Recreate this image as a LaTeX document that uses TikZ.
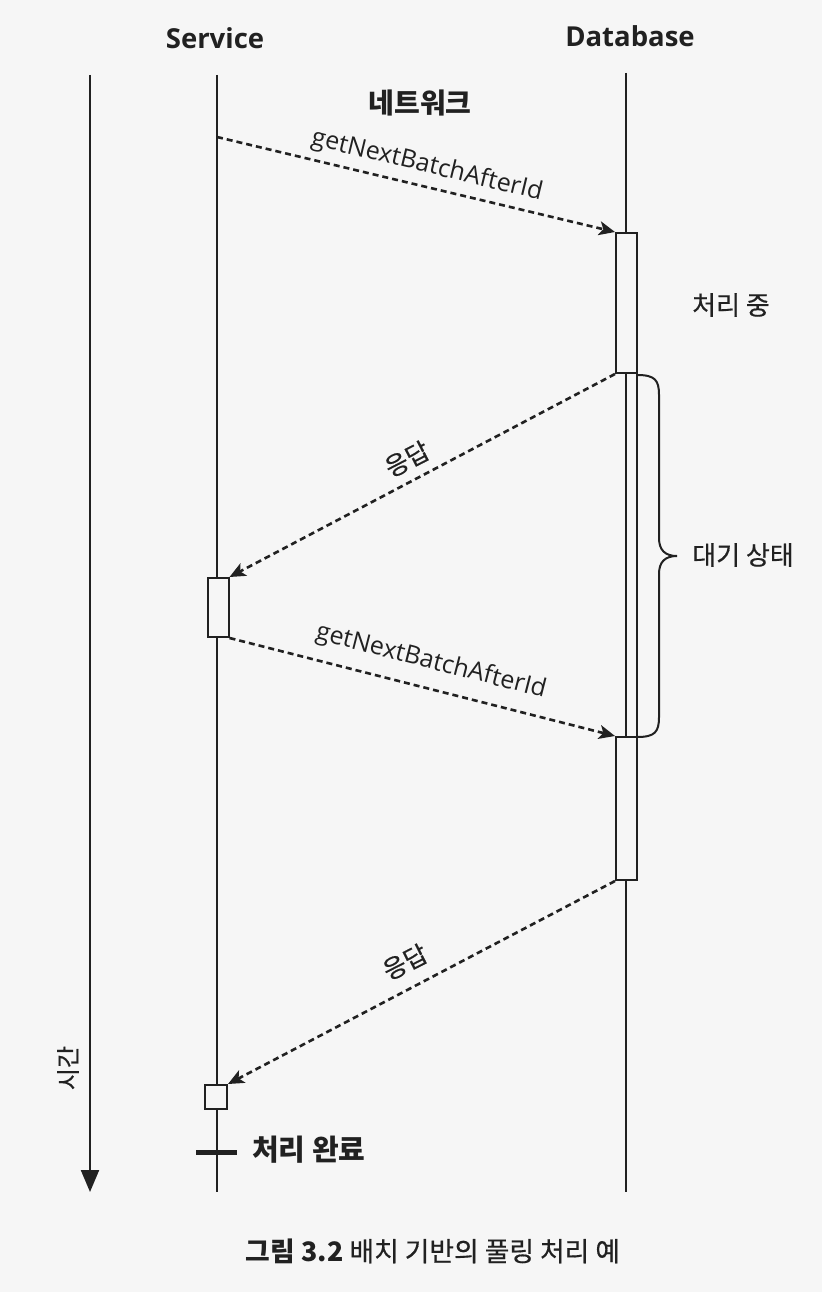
\documentclass[tikz,border=0pt]{standalone}
\usepackage{fontspec}
\setmainfont{Open Sans}
\newfontfamily\kr[FakeBold=0.5]{Noto Sans CJK KR}
\newfontfamily\krb{Noto Sans CJK KR}
\usetikzlibrary{arrows.meta}
\definecolor{paper}{gray}{0.965}
\definecolor{ink}{gray}{0.13}
\begin{document}
\begin{tikzpicture}[x=1pt,y=-1pt,
  life/.style={draw=ink, line width=2.2pt},
  msg/.style={draw=ink, line width=2.6pt, dash pattern=on 6pt off 4pt,
    -{Stealth[length=16pt,width=14pt,inset=4pt]}},
  actbox/.style={draw=ink, line width=2pt, fill=paper, inner sep=0pt, minimum width=21pt},
  title/.style={font=\fontsize{27.5}{27.5}\selectfont\bfseries, text=ink},
  msglbl/.style={font=\fontsize{25}{25}\selectfont, text=ink, inner sep=0pt},
  krlbl/.style={font=\kr\fontsize{26}{26}\selectfont, text=ink, inner sep=0pt},
  krbold/.style={font=\krb\fontsize{28}{28}\selectfont\bfseries, text=ink, inner sep=0pt}]
\fill[paper] (0,0) rectangle (822,1292);
\useasboundingbox (0,0) rectangle (822,1292);

% headers
\node[title] (svc) at (215,38) {Service};
\node[title] (db) at (630,36) {Database};
\node[krbold] (net) at (420,103) {네트워크};

% lifelines
\coordinate (tTop) at (90,75);
\coordinate (tBot) at (90,1192);
\coordinate (sTop) at (217,75);
\coordinate (sBot) at (217,1192);
\coordinate (dTop) at (626,73);
\coordinate (dBot) at (626,1192);
\draw[life, -{Triangle[length=22pt,width=18pt]}] (tTop) -- (tBot);
\draw[life] (sTop) -- (sBot);
\draw[life] (dTop) -- (dBot);

% activation boxes
\node[actbox, minimum height=140pt] (db1) at (626.5,303) {};
\node[actbox, minimum width=11pt, minimum height=364pt] (dbw) at (631.5,555) {};
\node[actbox, minimum height=143pt] (db3) at (626.5,808.5) {};
\node[actbox, minimum height=59pt] (sb1) at (218,607.5) {};
\node[actbox, minimum width=22pt, minimum height=24pt] (sb2) at (216,1097) {};

% messages
\coordinate (s0) at (217,137);
\draw[msg] (s0) -- (db1.north west);
\node[msglbl, rotate=-13.6] (m1) at (427,166) {getNextBatchAfterId};
\draw[msg] (db1.south west) -- (sb1.north east);
\node[krlbl, font=\kr\fontsize{25}{25}\selectfont, rotate=27.2] (r1) at (407,459) {응답};
\draw[msg] (sb1.south east) -- (db3.north west);
\node[msglbl, rotate=-14.4] (m2) at (431,662) {getNextBatchAfterId};
\draw[msg] (db3.south west) -- (sb2.north east);
\node[krlbl, font=\kr\fontsize{25}{25}\selectfont, rotate=26.9] (r2) at (405,962) {응답};

% state labels
\node[krlbl] (proc) at (731,305) {처리 중};
\draw[draw=ink, line width=2pt]
  (637,375) .. controls (655,375) and (659,380) .. (659,395) -- (659,538)
  .. controls (659,550) and (665,556) .. (677,556)
  .. controls (665,556) and (659,562) .. (659,574) -- (659,717)
  .. controls (659,732) and (655,737) .. (637,737);
\node[krlbl] (wait) at (743,555) {대기 상태};

% done tick
\coordinate (tickL) at (196,1152);
\coordinate (tickR) at (237,1152);
\draw[draw=ink, line width=5pt] (tickL) -- (tickR);
\node[krbold, font=\krb\fontsize{29}{29}\selectfont\bfseries, anchor=west] (done) at (252,1150) {처리 완료};

% time label
\node[krlbl, font=\kr\fontsize{24}{24}\selectfont, rotate=90] (time) at (68,1068) {시간};

% caption
\node[krlbl, font=\kr\fontsize{26.8}{26.8}\selectfont] (cap) at (433,1251) {{\krb\bfseries 그림 3.2} 배치 기반의 풀링 처리 예};
\end{tikzpicture}
\end{document}
